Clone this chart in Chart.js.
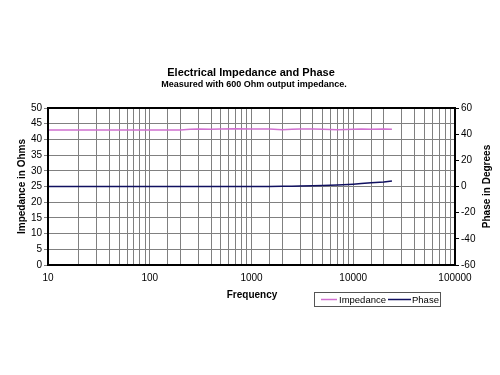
<!DOCTYPE html>
<html>
<head>
<meta charset="utf-8">
<script src="https://cdn.jsdelivr.net/npm/chart.js@4/dist/chart.umd.min.js"></script>
<style>
  html, body { margin: 0; padding: 0; background: #fff; }
  #wrap { width: 500px; height: 375px; position: relative; }
</style>
</head>
<body>
<div id="wrap"><canvas id="c" width="500" height="375"></canvas></div>
<script>
// ─────────────────────────────────────────────────────────────
// DATA
// ─────────────────────────────────────────────────────────────
const freqs = [10, 15, 20, 30, 50, 100, 150, 200, 250, 300, 400, 500, 700, 1000,
               1500, 2000, 2500, 3000, 4000, 5000, 7000, 10000, 12000, 15000, 20000, 24000];
const impedance = [43.0, 43.0, 43.0, 43.0, 43.0, 43.0, 43.0, 43.0, 43.2, 43.3, 43.2, 43.3, 43.4, 43.3,
                   43.3, 43.1, 43.2, 43.3, 43.3, 43.2, 43.1, 43.2, 43.3, 43.2, 43.3, 43.2];
const phase = [0, 0, 0, 0, 0, 0, 0, 0, 0, 0, 0, 0, 0, 0,
               0, 0.1, 0.2, 0.3, 0.5, 0.8, 1.2, 1.8, 2.2, 2.8, 3.5, 4.2];
const xTickLabels = [10, 100, 1000, 10000, 100000];

const FONT = "'Liberation Sans', Arial, sans-serif";
const IMP_COLOR = '#d070d0';
const PHASE_COLOR = '#101060';

// ─────────────────────────────────────────────────────────────
// TEXT + FRAME PLUGIN
// ─────────────────────────────────────────────────────────────
const decorPlugin = {
  id: 'decor',
  afterDatasetsDraw(chart) {
    const { ctx, chartArea: a } = chart;
    ctx.save();
    // plot frame
    ctx.strokeStyle = '#000';
    ctx.lineWidth = 2;
    ctx.strokeRect(a.left, a.top, a.right - a.left, a.bottom - a.top);

    ctx.fillStyle = '#000';
    ctx.textAlign = 'center';
    ctx.textBaseline = 'middle';
    ctx.font = `bold 11px ${FONT}`;
    ctx.fillText('Electrical Impedance and Phase', 251, 73);
    ctx.font = `bold 9px ${FONT}`;
    ctx.fillText('Measured with 600 Ohm output impedance.', 254, 85);
    ctx.font = `bold 10px ${FONT}`;
    ctx.fillText('Frequency', 252, 295);

    // axis titles
    const midY = (a.top + a.bottom) / 2;
    ctx.save();
    ctx.translate(22, midY);
    ctx.rotate(-Math.PI / 2);
    ctx.fillText('Impedance in Ohms', 0, 0);
    ctx.restore();
    ctx.save();
    ctx.translate(487, midY);
    ctx.rotate(-Math.PI / 2);
    ctx.fillText('Phase in Degrees', 0, 0);
    ctx.restore();

    // legend
    ctx.strokeStyle = '#555';
    ctx.lineWidth = 1;
    ctx.strokeRect(314.5, 292.5, 126, 14);
    ctx.font = `9.5px ${FONT}`;
    ctx.textAlign = 'left';
    ctx.lineWidth = 1.5;
    ctx.strokeStyle = IMP_COLOR;
    ctx.beginPath(); ctx.moveTo(321, 299.5); ctx.lineTo(337, 299.5); ctx.stroke();
    ctx.fillText('Impedance', 339, 300);
    ctx.strokeStyle = PHASE_COLOR;
    ctx.beginPath(); ctx.moveTo(388, 299.5); ctx.lineTo(411, 299.5); ctx.stroke();
    ctx.fillText('Phase', 412, 300);
    ctx.restore();
  }
};

// ─────────────────────────────────────────────────────────────
// CHART
// ─────────────────────────────────────────────────────────────
const tickFont = { family: FONT, size: 10 };

new Chart(document.getElementById('c'), {
  type: 'line',
  data: {
    datasets: [
      {
        label: 'Impedance',
        data: freqs.map((f, i) => ({ x: f, y: impedance[i] })),
        borderColor: IMP_COLOR,
        borderWidth: 1.5,
        pointRadius: 0,
        tension: 0,
        yAxisID: 'y',
      },
      {
        label: 'Phase',
        data: freqs.map((f, i) => ({ x: f, y: phase[i] })),
        borderColor: PHASE_COLOR,
        borderWidth: 1.5,
        pointRadius: 0,
        tension: 0,
        yAxisID: 'y2',
      }
    ]
  },
  options: {
    responsive: false,
    animation: false,
    layout: { padding: { top: 108, left: 0, right: 0, bottom: 0 } },
    plugins: { legend: { display: false }, tooltip: { enabled: false } },
    scales: {
      x: {
        type: 'logarithmic',
        min: 10,
        max: 100000,
        grid: { color: '#808080', lineWidth: 1, tickLength: 0 },
        border: { color: '#000', width: 2 },
        ticks: {
          color: '#000', font: tickFont, autoSkip: false, maxRotation: 0, padding: 7,
          callback: (v) => xTickLabels.includes(v) ? String(v) : ''
        },
        afterFit: (s) => { s.height = 110; }
      },
      y: {
        position: 'left',
        min: 0,
        max: 50,
        grid: { color: '#808080', lineWidth: 1, tickLength: 4 },
        border: { color: '#000', width: 2 },
        ticks: { color: '#000', font: tickFont, stepSize: 5, padding: 2 },
        afterFit: (s) => { s.width = 48; }
      },
      y2: {
        position: 'right',
        min: -60,
        max: 60,
        grid: { drawOnChartArea: false, color: '#000', tickLength: 4 },
        border: { color: '#000', width: 2 },
        ticks: { color: '#000', font: tickFont, stepSize: 20, padding: 2 },
        afterFit: (s) => { s.width = 45; }
      }
    }
  },
  plugins: [decorPlugin]
});
</script>
</body>
</html>
